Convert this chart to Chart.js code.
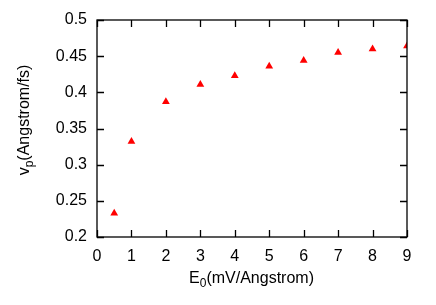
<!DOCTYPE html>
<html><head><meta charset="utf-8">
<script src="https://cdn.jsdelivr.net/npm/chart.js@4/dist/chart.umd.min.js"></script>
<style>html,body{margin:0;padding:0;background:#fff}#c{display:block}</style>
</head><body>
<canvas id="c" width="436" height="305"></canvas>
<script>
const xValues = [0.5, 1, 2, 3, 4, 5, 6, 7, 8, 9];
const vpValues = [0.233, 0.332, 0.387, 0.411, 0.423, 0.436, 0.444, 0.455, 0.460, 0.464];
const xTicks = [0, 1, 2, 3, 4, 5, 6, 7, 8, 9];
const yTicks = [0.2, 0.25, 0.3, 0.35, 0.4, 0.45, 0.5];
const FONT = '"Liberation Sans", Arial, Helvetica, sans-serif';

const framePlugin = {
  id: 'frame',
  afterDraw(chart) {
    const ctx = chart.ctx, a = chart.chartArea;
    const xs = chart.scales.x, ys = chart.scales.y;
    ctx.save();
    ctx.strokeStyle = '#000';
    ctx.lineWidth = 1.3;
    ctx.strokeRect(a.left, a.top, a.right - a.left, a.bottom - a.top);
    const L = 7;
    ctx.beginPath();
    xTicks.forEach(v => {
      const p = Math.round(xs.getPixelForValue(v)) + 0.5;
      ctx.moveTo(p, a.bottom); ctx.lineTo(p, a.bottom - L);
      ctx.moveTo(p, a.top); ctx.lineTo(p, a.top + L);
    });
    yTicks.forEach(v => {
      const p = Math.round(ys.getPixelForValue(v)) + 0.5;
      ctx.moveTo(a.left, p); ctx.lineTo(a.left + L, p);
      ctx.moveTo(a.right, p); ctx.lineTo(a.right - L, p);
    });
    ctx.stroke();
    ctx.fillStyle = '#000';
    ctx.textBaseline = 'alphabetic';
    const big = '16px ' + FONT, small = '12px ' + FONT;
    // x title
    ctx.font = big;
    const e = 'E', rest = '(mV/Angstrom)';
    const wE = ctx.measureText(e).width, wR = ctx.measureText(rest).width;
    ctx.font = small; const w0 = ctx.measureText('0').width;
    const total = wE + w0 + wR;
    let x0 = 251.5 - total / 2;
    const yb = 283;
    ctx.font = big; ctx.textAlign = 'left';
    ctx.fillText(e, x0, yb);
    ctx.font = small; ctx.fillText('0', x0 + wE, yb + 4);
    ctx.font = big; ctx.fillText(rest, x0 + wE + w0, yb);
    // y title
    ctx.save();
    ctx.translate(29, 120);
    ctx.rotate(-Math.PI / 2);
    ctx.font = big;
    const v = 'v', rest2 = '(Angstrom/fs)';
    const wv = ctx.measureText(v).width, wR2 = ctx.measureText(rest2).width;
    ctx.font = small; const wp = ctx.measureText('p').width;
    const t2 = wv + wp + wR2;
    let s = -t2 / 2;
    ctx.font = big; ctx.fillText(v, s, 0);
    ctx.font = small; ctx.fillText('p', s + wv, 4);
    ctx.font = big; ctx.fillText(rest2, s + wv + wp, 0);
    ctx.restore();
    ctx.restore();
  }
};

new Chart(document.getElementById('c'), {
  type: 'scatter',
  data: {
    datasets: [{
      data: xValues.map((x, i) => ({ x: x, y: vpValues[i] })),
      pointStyle: 'triangle',
      pointRadius: 4.5,
      backgroundColor: '#ff0000',
      borderColor: '#ff0000',
      borderWidth: 0
    }]
  },
  options: {
    responsive: false,
    animation: false,
    layout: { padding: { top: 20, right: 29, left: 0, bottom: 0 } },
    plugins: { legend: { display: false }, tooltip: { enabled: false } },
    scales: {
      x: {
        type: 'linear', min: 0, max: 9,
        afterBuildTicks: s => { s.ticks = xTicks.map(v => ({ value: v })); },
        afterFit: s => { s.height = 68; },
        grid: { display: false, drawTicks: false },
        border: { display: false },
        ticks: { padding: 10, color: '#000', font: { family: FONT, size: 16 }, maxRotation: 0,
          callback: v => String(v) }
      },
      y: {
        type: 'linear', min: 0.2, max: 0.5,
        afterBuildTicks: s => { s.ticks = yTicks.map(v => ({ value: v })); },
        afterFit: s => { s.width = 97; },
        grid: { display: false, drawTicks: false },
        border: { display: false },
        ticks: { padding: 10, color: '#000', font: { family: FONT, size: 16 },
          callback: v => String(+v.toFixed(2)) }
      }
    }
  },
  plugins: [framePlugin]
});
</script>
</body></html>
